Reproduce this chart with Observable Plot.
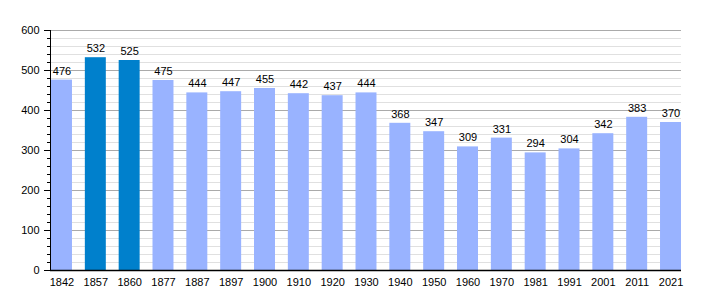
<!DOCTYPE html>
<html><head><meta charset="utf-8">
<script src="https://cdn.jsdelivr.net/npm/d3@7"></script>
<script src="https://cdn.jsdelivr.net/npm/@observablehq/plot@0.6"></script>
<style>body{margin:0;background:#fff;} svg{font-family:"Liberation Sans",Arial,sans-serif;}</style>
</head><body><div id="chart"></div>
<script>
const years = ["1842","1857","1860","1877","1887","1897","1900","1910","1920","1930","1940","1950","1960","1970","1981","1991","2001","2011","2021"];
const population = [476,532,525,475,444,447,455,442,437,444,368,347,309,331,294,304,342,383,370];
const highlighted = ["1857","1860"];
const majorTicks = [0,100,200,300,400,500,600];
const minorTicks = d3.range(0, 601, 20).filter(v => v % 100 !== 0);

const data = years.map((y, i) => ({year: y, value: population[i], hi: highlighted.includes(y)}));

const chart = Plot.plot({
  width: 710,
  height: 300,
  marginLeft: 50,
  marginRight: 29,
  marginTop: 30,
  marginBottom: 30,
  style: {fontFamily: "'Liberation Sans', Arial, sans-serif", fontSize: "11px", color: "#000"},
  x: {domain: years, range: [51, 681], paddingInner: 0.38, paddingOuter: 0, round: false, label: null},
  y: {domain: [0, 600], label: null},
  marks: [
    Plot.ruleY(minorTicks, {stroke: "#e0e0e0", strokeWidth: 1}),
    Plot.ruleY(majorTicks.filter(v => v > 0), {stroke: "#aaaaaa", strokeWidth: 1}),
    Plot.barY(data, {x: "year", y: "value", fill: d => d.hi ? "#0080cc" : "#99b3ff"}),
    Plot.text(data, {x: "year", y: "value", text: d => String(d.value), dy: -9, fill: "#000", fontSize: 11}),
    Plot.axisY(minorTicks, {tickSize: 3, text: null, stroke: "#000"}),
    Plot.axisY(majorTicks, {tickSize: 6, tickPadding: 5, stroke: "#000", fill: "#000", fontSize: 11, label: null}),
    Plot.axisX({tickSize: 0, tickPadding: 8, fill: "#000", fontSize: 11, label: null}),
    Plot.frame({anchor: "left", stroke: "#000", strokeOpacity: 1}),
    Plot.ruleY([0], {stroke: "#000", strokeWidth: 1.5})
  ]
});
document.getElementById("chart").append(chart);
</script>
</body></html>
